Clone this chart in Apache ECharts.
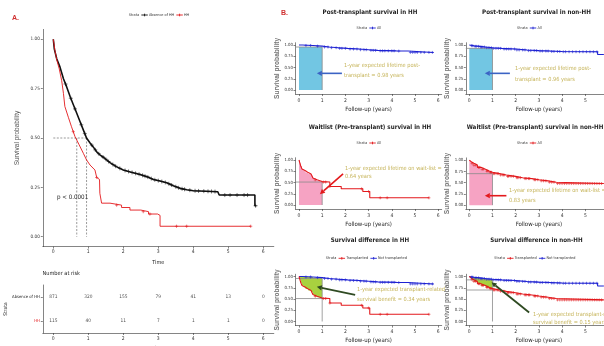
<!DOCTYPE html>
<html>
<head>
<meta charset="utf-8">
<script src="https://cdn.jsdelivr.net/npm/echarts@6/dist/echarts.min.js"></script>
<style>
  html, body { margin: 0; padding: 0; background: #fff; }
  #c { width: 604px; height: 346px; }
</style>
</head>
<body>
<div id="c"></div>
<script>
// ---------- data ----------
const timeTicks = [0, 1, 2, 3, 4, 5, 6];
const probTicks = [0, 0.25, 0.5, 0.75, 1];

// Overall survival by HH status, traced as [time (years), survival]
const absenceCurve = [[0,1],[0.03,0.95],[0.1,0.9],[0.19,0.86],[0.29,0.8],[0.38,0.76],[0.48,0.71],[0.57,0.67],[0.67,0.625],[0.76,0.585],[0.86,0.54],[0.95,0.5],[1.05,0.475],[1.14,0.455],[1.24,0.43],[1.33,0.415],[1.45,0.4],[1.62,0.375],[1.8,0.355],[2.0,0.338],[2.2,0.328],[2.48,0.315],[2.7,0.302],[2.86,0.29],[3.05,0.282],[3.24,0.273],[3.43,0.258],[3.62,0.245],[3.81,0.238],[4.0,0.233],[4.7,0.228],[4.74,0.211],[5.76,0.211],[5.76,0.157],[5.8,0.157]];
const hhCurve = [[0,1],[0.05,0.94],[0.1,0.895],[0.17,0.85],[0.24,0.79],[0.29,0.726],[0.33,0.66],[0.43,0.605],[0.52,0.557],[0.62,0.507],[0.74,0.465],[0.86,0.422],[0.95,0.389],[1.05,0.363],[1.19,0.338],[1.24,0.3],[1.32,0.29],[1.33,0.22],[1.38,0.17],[1.62,0.17],[1.62,0.16],[1.95,0.16],[1.95,0.148],[2.19,0.148],[2.19,0.135],[2.5,0.135],[2.5,0.127],[2.72,0.127],[2.72,0.115],[2.98,0.115],[2.98,0.108],[3.05,0.108],[3.05,0.053],[5.64,0.053]];
const absenceCensor = [0.35,0.5,0.62,0.8,0.9,1.1,1.2,1.3,1.42,1.5,1.58,1.7,1.78,1.9,2.05,2.15,2.25,2.35,2.45,2.55,2.62,2.7,2.8,2.9,3.0,3.1,3.2,3.3,3.38,3.5,3.58,3.68,3.75,3.9,4.05,4.15,4.3,4.42,4.52,4.62,4.9,5.05,5.25,5.45,5.55,5.78];
const hhCensor = [0.57,1.24,1.81,2.57,2.76,3.52,3.81,5.64];
const medianAbsence = 0.95;
const medianHH = 0.67;
const pValueText = 'p < 0.0001';

const riskGroups = ['HH', 'Absence of HH'];
const riskAbsence = [871, 320, 155, 79, 41, 13, 0];
const riskHH = [115, 40, 11, 7, 1, 1, 0];

// Kaplan-Meier step points [time (years), survival]
const postTxHH = [[0,1],[0.15,0.99],[0.6,0.975],[1.0,0.955],[1.3,0.94],[1.7,0.925],[2.1,0.91],[2.6,0.895],[3.0,0.88],[3.4,0.87],[4.2,0.865],[4.7,0.835],[5.8,0.835]];
const postTxNonHH = [[0,1],[0.05,0.985],[0.2,0.97],[0.45,0.955],[0.7,0.94],[1.0,0.925],[1.4,0.91],[2.0,0.89],[2.5,0.875],[3.0,0.865],[3.5,0.855],[4.0,0.85],[5.53,0.79],[5.8,0.79]];
const waitHH = [[0,1],[0.04,0.93],[0.08,0.86],[0.13,0.8],[0.2,0.76],[0.28,0.72],[0.4,0.69],[0.52,0.65],[0.6,0.6],[0.66,0.56],[0.78,0.54],[0.9,0.52],[1.0,0.51],[1.33,0.41],[1.82,0.36],[2.75,0.3],[3.05,0.16],[5.6,0.16]];
const waitNonHH = [[0,1],[0.05,0.96],[0.1,0.93],[0.2,0.89],[0.35,0.84],[0.5,0.8],[0.7,0.76],[0.85,0.73],[1.0,0.7],[1.3,0.67],[1.6,0.64],[2.0,0.61],[2.3,0.59],[2.7,0.565],[3.0,0.54],[3.4,0.51],[3.75,0.48],[5.8,0.48]];

const postTxHHCensor = [0.3,0.5,0.8,1.1,1.25,1.4,1.6,1.75,1.85,2.0,2.2,2.35,2.5,2.65,2.8,2.9,3.1,3.2,3.3,3.5,3.6,3.7,3.85,4.0,4.1,4.3,4.8,4.9,5.0,5.1,5.25,5.4,5.6,5.75];
const postTxNonHHCensor = [0.1,0.15,0.25,0.3,0.4,0.5,0.55,0.65,0.75,0.85,0.95,1.05,1.15,1.25,1.35,1.5,1.6,1.7,1.8,1.95,2.05,2.15,2.3,2.4,2.55,2.65,2.8,2.9,3.05,3.15,3.3,3.4,3.55,3.65,3.8,3.9,4.05,4.15,4.3,4.45,4.6,4.75,4.9,5.05,5.2,5.35,5.5];
const waitHHCensor = [0.7,1.05,1.15,1.33,2.7,3.0,3.5,3.8,5.6];
const waitNonHHCensor = [0.12,0.2,0.28,0.4,0.45,0.55,0.6,0.75,0.8,0.9,0.95,1.05,1.1,1.2,1.25,1.35,1.45,1.5,1.65,1.7,1.8,1.9,2.05,2.1,2.2,2.4,2.45,2.55,2.6,2.8,2.85,2.95,3.1,3.2,3.3,3.45,3.55,3.65,3.8,3.9,4.0,4.1,4.2,4.3,4.4,4.5,4.6,4.7,4.8,4.9,5.0,5.1,5.2,5.3,5.4,5.5,5.6,5.7];

// ---------- styling ----------
const NARROW = "'Liberation Sans Narrow','DejaVu Sans Condensed','Arial Narrow',sans-serif";
const WIDE = "'Liberation Sans',Arial,sans-serif";
const C_BLACK = '#111111';
const C_RED = '#e3191c';
const C_BLUE = '#1e22d2';
const C_GRAY = '#8a8a8a';
const C_AXIS = '#333333';
const C_NOTE = '#c6b45a';
const FILL_BLUE = '#72c6e3';
const FILL_PINK = '#f6a3c3';
const FILL_GREEN = '#a8d13f';
const CROSS = 'path://M5,0V10M0,5H10';

// value of a step curve at time t
function stepAt(curve, t) {
  let s = curve[0][1];
  for (const [ti, si] of curve) { if (ti <= t) s = si; else break; }
  return s;
}
// value of a traced polyline at time t (used to seat censor ticks on the line)
function lineAt(curve, t) {
  for (let i = 1; i < curve.length; i++) {
    const [t0, s0] = curve[i - 1], [t1, s1] = curve[i];
    if (t <= t1) return t1 === t0 ? s1 : s0 + (s1 - s0) * (t - t0) / (t1 - t0);
  }
  return curve[curve.length - 1][1];
}
function stepPoints(curve, t0, t1) {
  let s = stepAt(curve, t0);
  const pts = [[t0, s]];
  for (const [t, v] of curve) {
    if (t > t0 && t < t1) { pts.push([t, s]); s = v; pts.push([t, s]); }
  }
  pts.push([t1, s]);
  return pts;
}

// ---------- layout ----------
const SMALL_X = { min: -0.15, max: 6.15 };
const SMALL_Y = { min: -0.09, max: 1.05 };
const smallW = 146.2, smallH = 51.3;
const grids = [
  { left: 42.8, top: 29.4, width: 231, height: 217.2 },   // A: survival curves
  { left: 42.8, top: 285, width: 231, height: 48 },       // A: number at risk
  { left: 295.5, top: 42.75, width: smallW, height: smallH },
  { left: 465.8, top: 42.75, width: smallW, height: smallH },
  { left: 295.5, top: 157.75, width: smallW, height: smallH },
  { left: 465.8, top: 157.9, width: smallW, height: smallH },
  { left: 295.5, top: 274.25, width: smallW, height: smallH },
  { left: 465.8, top: 274.25, width: smallW, height: smallH }
].map(g => Object.assign({ outerBoundsMode: 'none', containLabel: false }, g));

function valueXAxis(gridIndex, range, opts) {
  return {
    type: 'value', gridIndex, min: range.min, max: range.max,
    axisLine: { show: true, onZero: false, lineStyle: { color: C_AXIS, width: 0.6 } },
    axisTick: { show: true, length: 2, customValues: timeTicks, lineStyle: { color: C_AXIS, width: 0.6 } },
    axisLabel: { show: true, customValues: timeTicks, fontSize: opts.tickSize, color: '#333', margin: opts.margin, fontFamily: NARROW },
    splitLine: { show: false },
    name: opts.name, nameLocation: 'middle', nameGap: opts.nameGap,
    nameTextStyle: { fontSize: opts.nameSize, color: '#222', fontFamily: NARROW }
  };
}
function probYAxis(gridIndex, range, opts) {
  return {
    type: 'value', gridIndex, min: range.min, max: range.max,
    axisLine: { show: true, onZero: false, lineStyle: { color: C_AXIS, width: 0.6 } },
    axisTick: { show: true, length: 2, customValues: probTicks, lineStyle: { color: C_AXIS, width: 0.6 } },
    axisLabel: { show: true, customValues: probTicks, formatter: v => Number(v).toFixed(2), fontSize: opts.tickSize, color: '#333', margin: opts.margin, fontFamily: NARROW },
    splitLine: { show: false },
    name: 'Survival probability', nameLocation: 'middle', nameRotate: 90, nameGap: opts.nameGap,
    nameTextStyle: { fontSize: opts.nameSize, color: opts.nameColor, fontWeight: opts.nameWeight, fontFamily: WIDE }
  };
}

const xAxes = [
  valueXAxis(0, { min: -0.3, max: 6.3 }, { tickSize: 5, margin: 3, name: 'Time', nameGap: 12, nameSize: 5.5 }),
  valueXAxis(1, { min: -0.3, max: 6.3 }, { tickSize: 5, margin: 3, name: 'Time', nameGap: 13, nameSize: 5.5 })
];
const yAxes = [
  probYAxis(0, { min: -0.05, max: 1.05 }, { tickSize: 4.6, margin: 3, nameGap: 22, nameSize: 6.5, nameColor: '#555', nameWeight: 'normal' }),
  {
    type: 'category', gridIndex: 1, data: riskGroups,
    axisLine: { show: true, onZero: false, lineStyle: { color: C_AXIS, width: 0.6 } },
    axisTick: { show: true, length: 2, alignWithLabel: true, lineStyle: { color: C_AXIS, width: 0.6 } },
    axisLabel: { fontSize: 4.2, margin: 3, fontFamily: NARROW, color: v => (v === 'HH' ? C_RED : '#222') },
    name: 'Strata', nameLocation: 'middle', nameRotate: 90, nameGap: 25,
    nameTextStyle: { fontSize: 5, color: '#222', fontFamily: NARROW }
  }
];
for (let g = 2; g < 8; g++) {
  const right = g % 2 === 1;
  xAxes.push(valueXAxis(g, SMALL_X, { tickSize: 5, margin: 4, name: 'Follow-up (years)', nameGap: 12, nameSize: 6 }));
  yAxes.push(probYAxis(g, SMALL_Y, { tickSize: 4.3, margin: 2.5, nameGap: right ? 11 : 15, nameSize: 6.6, nameColor: '#777', nameWeight: 'bold' }));
}

// ---------- series builders ----------
function curveLine(ax, curve, color, width, stepped) {
  return { type: 'line', xAxisIndex: ax, yAxisIndex: ax, data: curve, step: stepped ? 'end' : false,
    showSymbol: false, symbol: 'none', silent: true, animation: false, lineStyle: { color, width }, z: 3 };
}
function censorMarks(ax, pts, color, size) {
  return { type: 'scatter', xAxisIndex: ax, yAxisIndex: ax, data: pts,
    symbol: CROSS, symbolSize: size, silent: true, animation: false,
    itemStyle: { color: 'transparent', borderColor: color, borderWidth: 0.7 }, z: 4 };
}
function polygon(ax, pts, fill) {
  return { type: 'custom', xAxisIndex: ax, yAxisIndex: ax, data: [0], silent: true, animation: false, z: 1,
    renderItem: (p, api) => ({ type: 'polygon', shape: { points: pts.map(q => api.coord(q)) }, style: { fill } }) };
}
function refLine(ax, pts, color, dashed) {
  return { type: 'line', xAxisIndex: ax, yAxisIndex: ax, data: pts, showSymbol: false, symbol: 'none', silent: true,
    animation: false, lineStyle: { color, width: dashed ? 0.6 : 0.8, type: dashed ? [2, 1.5] : 'solid' }, z: 2 };
}
function arrow(ax, from, to, color, width) {
  return { type: 'custom', xAxisIndex: ax, yAxisIndex: ax, data: [0], silent: true, animation: false, z: 6,
    renderItem: (p, api) => {
      const a = api.coord(from), b = api.coord(to);
      const ang = Math.atan2(b[1] - a[1], b[0] - a[0]);
      const L = 5, W = 2.6;
      const c = [b[0] - L * Math.cos(ang), b[1] - L * Math.sin(ang)];
      const n = [-Math.sin(ang) * W, Math.cos(ang) * W];
      return { type: 'group', children: [
        { type: 'line', shape: { x1: a[0], y1: a[1], x2: c[0], y2: c[1] }, style: { stroke: color, lineWidth: width } },
        { type: 'polygon', shape: { points: [b, [c[0] + n[0], c[1] + n[1]], [c[0] - n[0], c[1] - n[1]]] }, style: { fill: color } }
      ] };
    } };
}

const series = [];
// Panel A
series.push(refLine(0, [[0, 0.5], [medianAbsence, 0.5]], '#555', true));
series.push(refLine(0, [[medianHH, 0.5], [medianHH, 0]], '#555', true));
series.push(refLine(0, [[medianAbsence, 0.5], [medianAbsence, 0]], '#555', true));
series.push(curveLine(0, absenceCurve, C_BLACK, 1.6, false));
series.push(curveLine(0, hhCurve, C_RED, 0.9, false));
series.push(censorMarks(0, absenceCensor.map(t => [t, lineAt(absenceCurve, t)]), C_BLACK, 4));
series.push(censorMarks(0, hhCensor.map(t => [t, lineAt(hhCurve, t)]), C_RED, 3.2));
series.push({
  type: 'scatter', xAxisIndex: 1, yAxisIndex: 1, symbolSize: 1, silent: true, animation: false,
  itemStyle: { color: 'transparent' },
  data: riskAbsence.map((n, i) => [timeTicks[i], riskGroups[1], n]).concat(riskHH.map((n, i) => [timeTicks[i], riskGroups[0], n])),
  label: { show: true, position: 'inside', formatter: p => String(p.value[2]), fontSize: 4.8, color: '#222', fontFamily: NARROW }
});

// Panel B: post-transplant
[[2, postTxHH, postTxHHCensor], [3, postTxNonHH, postTxNonHHCensor]].forEach(([ax, curve, cens]) => {
  const s1 = stepAt(curve, 1);
  series.push(polygon(ax, [[0, 0], [1, 0], [1, s1], [0, s1]], FILL_BLUE));
  series.push(refLine(ax, [[SMALL_X.min, s1], [1, s1], [1, 0]], C_GRAY));
  series.push(curveLine(ax, curve, C_BLUE, 1.1, true));
  series.push(censorMarks(ax, cens.map(t => [t, stepAt(curve, t)]), C_BLUE, 3));
});
// Panel B: wait-list
[[4, waitHH, waitHHCensor], [5, waitNonHH, waitNonHHCensor]].forEach(([ax, curve, cens]) => {
  const s1 = stepAt(curve, 1);
  series.push(polygon(ax, stepPoints(curve, 0, 1).concat([[1, 0], [0, 0]]), FILL_PINK));
  series.push(refLine(ax, [[SMALL_X.min, s1], [1, s1], [1, 0]], C_GRAY));
  series.push(curveLine(ax, curve, C_RED, 1.1, true));
  series.push(censorMarks(ax, cens.map(t => [t, stepAt(curve, t)]), C_RED, 3));
});
// Panel B: survival difference
[[6, postTxHH, postTxHHCensor, waitHH, waitHHCensor], [7, postTxNonHH, postTxNonHHCensor, waitNonHH, waitNonHHCensor]].forEach(([ax, post, pc, wait, wc]) => {
  const sp = stepAt(post, 1), sw = stepAt(wait, 1);
  series.push(polygon(ax, stepPoints(post, 0, 1).concat(stepPoints(wait, 0, 1).reverse()), FILL_GREEN));
  series.push(refLine(ax, [[SMALL_X.min, sw], [1, sw]], C_GRAY));
  series.push(refLine(ax, [[SMALL_X.min, sp], [1, sp], [1, 0]], C_GRAY));
  series.push(curveLine(ax, post, C_BLUE, 1.1, true));
  series.push(curveLine(ax, wait, C_RED, 1.1, true));
  series.push(censorMarks(ax, pc.map(t => [t, stepAt(post, t)]), C_BLUE, 3));
  series.push(censorMarks(ax, wc.map(t => [t, stepAt(wait, t)]), C_RED, 3));
});

// annotation arrows (data coordinates of tail and head)
const arrows = [
  [2, [1.85, 0.37], [0.77, 0.37], '#3b63c4', 1.6],
  [3, [1.75, 0.37], [0.67, 0.37], '#3b63c4', 1.6],
  [4, [1.9, 0.69], [0.9, 0.24], C_RED, 1.6],
  [5, [1.6, 0.21], [0.67, 0.21], C_RED, 1.6],
  [6, [2.42, 0.59], [0.77, 0.77], '#2f4a22', 1.8],
  [7, [2.58, 0.2], [0.96, 0.87], '#2f4a22', 1.8]
];
arrows.forEach(a => series.push(arrow(a[0], a[1], a[2], a[3], a[4])));

// ---------- text, titles and legends ----------
const measure = document.createElement('canvas').getContext('2d');
function textW(str, size, weight) {
  measure.font = (weight || 'normal') + ' ' + size + 'px ' + NARROW;
  return measure.measureText(str).width;
}
function txt(x, y, str, size, fill, extra) {
  return Object.assign({ type: 'text', x, y, silent: true,
    style: Object.assign({ text: str, fontSize: size, fontFamily: NARROW, fill, textAlign: 'left', align: 'left',
      textVerticalAlign: 'middle', verticalAlign: 'middle' }, (extra || {})) });
}
function legend(cx, y, items, size) {
  const glyph = size * 1.7, gap = size * 0.6;
  let total = 0;
  items.forEach(it => { if (it.color) total += glyph + gap * 0.5; total += textW(it.text, size) + gap; });
  let x = cx - total / 2;
  const els = [];
  items.forEach(it => {
    if (it.color) {
      els.push({ type: 'line', silent: true, shape: { x1: x, y1: y, x2: x + glyph, y2: y }, style: { stroke: it.color, lineWidth: 0.9 } });
      els.push({ type: 'line', silent: true, shape: { x1: x + glyph / 2, y1: y - 1.3, x2: x + glyph / 2, y2: y + 1.3 }, style: { stroke: it.color, lineWidth: 0.9 } });
      x += glyph + gap * 0.5;
    }
    els.push(txt(x, y, it.text, size, '#333'));
    x += textW(it.text, size) + gap;
  });
  return els;
}
function title(cx, y, str) {
  return txt(cx, y, str, 6.2, '#222', { textAlign: 'center', align: 'center', fontWeight: 'bold' });
}

const graphics = [];
graphics.push(txt(12, 18, 'A.', 7, '#d03030', { fontWeight: 'bold', fontFamily: WIDE }));
graphics.push(txt(281, 13, 'B.', 7, '#d03030', { fontWeight: 'bold', fontFamily: WIDE }));
graphics.push(txt(57, 197, pValueText, 6.2, '#222'));
graphics.push(txt(42.5, 274, 'Number at risk', 5.6, '#222'));
graphics.push(...legend(160, 15, [{ text: 'Strata' }, { text: 'Absence of HH', color: C_BLACK }, { text: 'HH', color: C_RED }], 3.8));

graphics.push(title(370, 12.7, 'Post-transplant survival in HH'));
graphics.push(title(536.5, 12.5, 'Post-transplant survival in non-HH'));
graphics.push(title(370, 127.7, 'Waitlist (Pre-transplant) survival in HH'));
graphics.push(title(535, 127.5, 'Waitlist (Pre-transplant) survival in non-HH'));
graphics.push(title(370, 240.5, 'Survival difference in HH'));
graphics.push(title(536.5, 240.5, 'Survival difference in non-HH'));

graphics.push(...legend(370, 28, [{ text: 'Strata' }, { text: 'All', color: C_BLUE }], 3.8));
graphics.push(...legend(530.5, 28, [{ text: 'Strata' }, { text: 'All', color: C_BLUE }], 3.8));
graphics.push(...legend(370, 143, [{ text: 'Strata' }, { text: 'All', color: C_RED }], 3.8));
graphics.push(...legend(530.5, 143, [{ text: 'Strata' }, { text: 'All', color: C_RED }], 3.8));
graphics.push(...legend(367.5, 258.3, [{ text: 'Strata' }, { text: 'Transplanted', color: C_RED }, { text: 'Not transplanted', color: C_BLUE }], 3.8));
graphics.push(...legend(536, 258.3, [{ text: 'Strata' }, { text: 'Transplanted', color: C_RED }, { text: 'Not transplanted', color: C_BLUE }], 3.8));

const notes = [
  [344, 65.7, '1-year expected lifetime post-'], [344, 75.7, 'transplant = 0.98 years'],
  [515, 69, '1-year expected lifetime post-'], [515, 80, 'transplant = 0.96 years'],
  [345, 168.3, '1-year expected lifetime on wait-list ='], [345, 176.5, '0.64 years'],
  [509, 191, '1-year expected lifetime on wait-list ='], [509, 201, '0.83 years'],
  [357, 290, '1-year expected transplant-related'], [357, 300, 'survival benefit = 0.34 years'],
  [533, 315, '1-year expected transplant-related'], [533, 322.7, 'survival benefit = 0.15 years']
];
notes.forEach(n => graphics.push(txt(n[0], n[1], n[2], 5.6, C_NOTE)));

const chart = echarts.init(document.getElementById('c'), null, { renderer: 'canvas' });
chart.setOption({
  animation: false,
  backgroundColor: '#ffffff',
  grid: grids,
  xAxis: xAxes,
  yAxis: yAxes,
  series,
  graphic: { elements: graphics }
});
</script>
</body>
</html>
